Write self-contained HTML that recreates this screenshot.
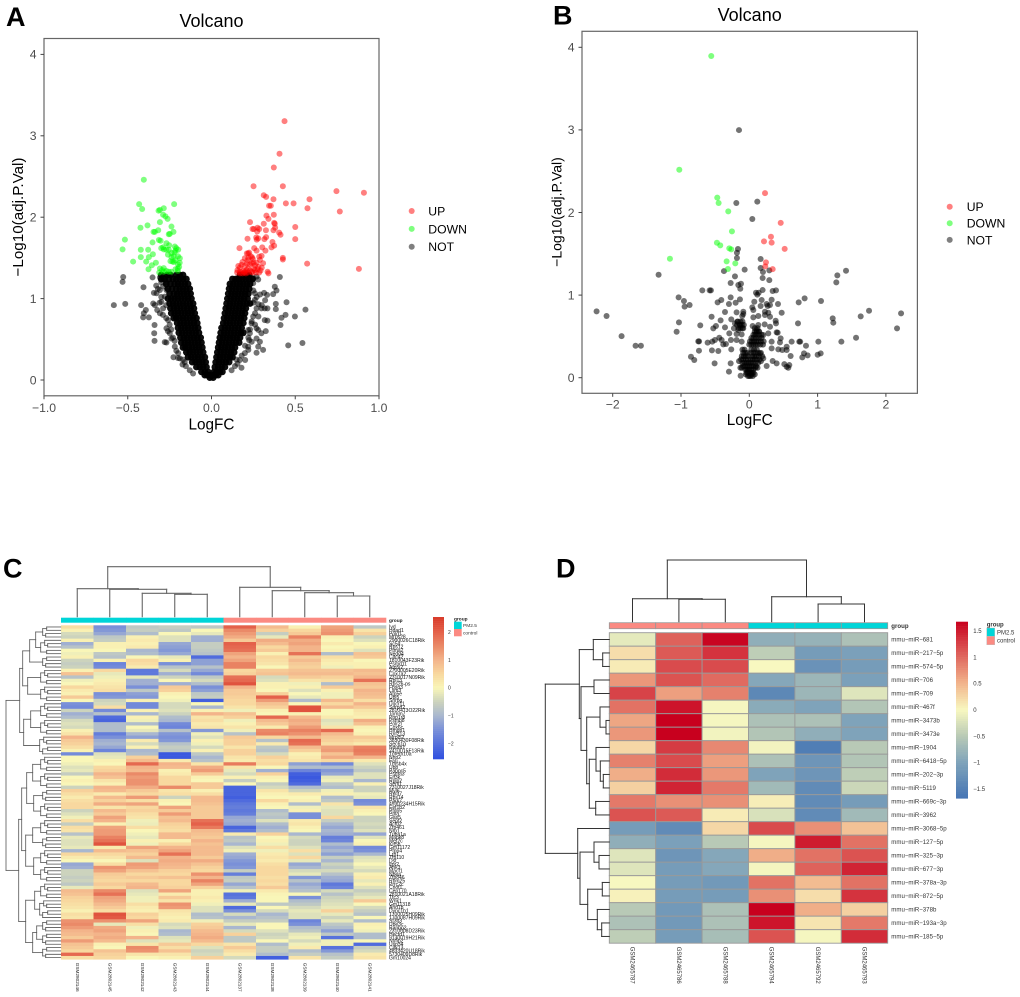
<!DOCTYPE html>
<html lang="en">
<head>
<meta charset="utf-8">
<title>Volcano plots and heatmaps</title>
<style>
html,body{margin:0;padding:0;background:#fff;width:1020px;height:997px;overflow:hidden}
svg{display:block;filter:blur(.35px)}
text{font-family:"Liberation Sans",Arial,sans-serif}
</style>
</head>
<body>
<svg id="fig" xmlns="http://www.w3.org/2000/svg" width="1020" height="997" viewBox="0 0 1020 997">
  <rect x="0" y="0" width="1020" height="997" fill="#fff"/>
  <text x="6" y="26" font-size="27" font-weight="bold" fill="#000">A</text>
  <text x="553" y="24.5" font-size="27" font-weight="bold" fill="#000">B</text>
  <text x="3" y="577.5" font-size="27" font-weight="bold" fill="#000">C</text>
  <text x="556" y="577.5" font-size="27" font-weight="bold" fill="#000">D</text>
  <g id="panelA"></g>
  <g id="panelB"></g>
  <g id="panelC"></g>
  <g id="panelD"></g>
</svg>
<script>
/* ---------- Panel A data ---------- */
const aUp=[[.436,3.18],[.406,2.78],[.372,2.61],[.251,2.38],[.426,2.38],[.746,2.32],[.91,2.3],[.312,2.27],[.326,2.25],[.37,2.22],[.585,2.22],[.444,2.17],[.49,2.17],[.573,2.11],[.766,2.07],[.344,2.14],[.354,2.14],[.328,2.02],[.372,2.03],[.34,1.98],[.23,1.94],[.312,1.92],[.374,1.93],[.378,1.92],[.38,1.87],[.5,1.88],[.245,1.855],[.253,1.855],[.275,1.87],[.285,1.855],[.273,1.825],[.325,1.84],[.37,1.84],[.404,1.81],[.412,1.785],[.215,1.735],[.267,1.75],[.279,1.74],[.27,1.725],[.316,1.73],[.326,1.755],[.364,1.695],[.5,1.73],[.374,1.65],[.358,1.63],[.167,1.62],[.255,1.62],[.269,1.59],[.303,1.63],[.322,1.59],[.211,1.555],[.219,1.555],[.225,1.565],[.426,1.5],[.426,1.48],[.199,1.495],[.243,1.505],[.247,1.485],[.285,1.515],[.299,1.525],[.289,1.475],[.571,1.43],[.88,1.365],[.179,1.415],[.211,1.43],[.239,1.435],[.308,1.435],[.155,1.35],[.169,1.33],[.189,1.34],[.219,1.37],[.229,1.345],[.245,1.32],[.259,1.35],[.275,1.36],[.293,1.345],[.335,1.33],[.34,1.31],[.209,1.35],[.219,1.32],[.153,1.32],[.185,1.31],[.253,1.37],[.16,1.4],[.17,1.38],[.185,1.45],[.2,1.4],[.2,1.33],[.215,1.47],[.23,1.42],[.235,1.52],[.25,1.44],[.26,1.41],[.27,1.44],[.28,1.39],[.22,1.5],[.24,1.33],[.265,1.32],[.285,1.32],[.3,1.38],[.205,1.31],[.17,1.31],[.195,1.32]];
const aDown=[[-.404,2.46],[-.432,2.16],[-.223,2.16],[-.414,2.1],[-.285,2.11],[-.316,2.08],[-.308,2.09],[-.289,2.03],[-.275,2.01],[-.262,1.98],[-.308,1.94],[-.382,1.9],[-.424,1.87],[-.239,1.885],[-.318,1.84],[-.346,1.82],[-.338,1.82],[-.227,1.82],[-.249,1.795],[-.255,1.79],[-.517,1.725],[-.314,1.72],[-.304,1.71],[-.352,1.69],[-.269,1.68],[-.253,1.655],[-.289,1.63],[-.531,1.605],[-.422,1.6],[-.378,1.6],[-.285,1.605],[-.255,1.6],[-.219,1.64],[-.215,1.59],[-.199,1.6],[-.221,1.57],[-.35,1.545],[-.374,1.51],[-.422,1.51],[-.239,1.51],[-.189,1.495],[-.233,1.455],[-.225,1.45],[-.468,1.455],[-.39,1.455],[-.332,1.44],[-.356,1.41],[-.376,1.36],[-.308,1.37],[-.285,1.375],[-.193,1.39],[-.201,1.37],[-.312,1.32],[-.255,1.33],[-.201,1.34],[-.285,1.33],[-.295,1.35],[-.27,1.34],[-.24,1.33],[-.215,1.36],[-.2,1.42],[-.19,1.44],[-.215,1.47],[-.245,1.46],[-.225,1.52],[-.24,1.56],[-.26,1.54],[-.27,1.6],[-.3,1.62],[-.2,1.52],[-.21,1.62]];
const aNot=[[-.527,1.265],[-.531,1.205],[-.406,1.14],[-.583,.92],[-.515,.935],[-.42,.92],[-.392,.86],[-.404,.82],[-.408,.77],[-.374,.77],[-.34,.675],[-.342,.575],[-.34,.48],[-.352,1.26],[-.344,1.07],[-.328,1.065],[-.348,.94],[-.338,.92],[-.324,.86],[-.308,.82],[-.279,.465],[-.269,.46],[-.227,.28],[-.173,.19],[-.153,.17],[-.308,1.26],[-.289,1.25],[-.259,1.29],[-.289,1.15],[-.308,1.105],[-.269,1.105],[-.279,1.025],[-.299,.96],[-.289,.88],[-.259,.735],[-.269,.635],[-.249,.575],[-.239,.51],[-.219,.41],[-.199,.33],[-.189,.265],[.408,1.265],[.378,1.145],[.388,1.1],[.368,1.055],[.314,1.07],[.332,1.045],[.448,.955],[.384,.935],[.384,.87],[.561,.865],[.298,.88],[.318,.88],[.334,.88],[.498,.78],[.442,.8],[.418,.765],[.412,.675],[.318,.735],[.334,.73],[.324,.6],[.298,.575],[.279,.615],[.269,.635],[.543,.455],[.458,.425],[.308,.37],[.269,.335],[.279,.41],[.289,.47],[.269,.51],[.201,.245],[.179,.15],[.155,.2],[.259,1.065],[.269,1.27],[.279,1.235],[.249,1.19],[.259,.985],[.269,.88],[.249,.78],[.229,.575],[.219,.41],[.199,.33],[.139,1.23],[.159,1.25],[.189,1.29],[.209,1.28],[.249,1.25],[.219,.615],[.239,.695],[.225,.49],[.169,.245],[-.3,1.2],[-.32,1.12],[-.3,1.02],[-.31,.95],[-.27,.92],[-.29,.8],[-.27,.76],[-.25,.68],[-.26,.6],[-.24,.62],[-.23,.52],[-.22,.48],[-.21,.36],[-.2,.27],[-.17,.25],[-.16,.22],[-.13,.12],[-.11,.08],[-.33,1.16],[-.27,1.2],[.25,1.1],[.27,1.02],[.25,.95],[.28,.93],[.26,.82],[.28,.78],[.24,.72],[.26,.68],[.22,.52],[.24,.47],[.22,.37],[.2,.42],[.18,.3],[.15,.25],[.14,.17],[.12,.12],[.3,.92],[.29,1.05],[.32,.98],[.23,.62]];
const aCoreRows=[
[.03,[-.01,.01]],
[.06,[-.012,-.025,-.04,.012,.025,.04]],
[.1,[-.02,-.04,-.06,.015,.03,.05,.065]],
[.16,[-.03,-.05,-.07,-.09,.02,.04,.06,.08]],
[.22,[-.035,-.055,-.075,-.095,-.115,.025,.045,.065,.085,.105]],
[.28,[-.04,-.06,-.08,-.1,-.12,-.14,.03,.05,.07,.09,.11,.125]],
[.34,[-.05,-.07,-.09,-.11,-.13,-.15,.035,.055,.075,.095,.115,.135]],
[.4,[-.055,-.075,-.095,-.115,-.135,-.155,-.17,.04,.06,.08,.1,.12,.14]],
[.46,[-.06,-.08,-.1,-.12,-.14,-.16,-.18,.045,.065,.085,.105,.125,.145,.165]],
[.52,[-.065,-.085,-.105,-.125,-.145,-.165,-.185,.05,.07,.09,.11,.13,.15,.17]],
[.58,[-.075,-.095,-.115,-.135,-.155,-.175,-.195,.055,.075,.095,.115,.135,.155,.175,.19]],
[.64,[-.08,-.1,-.12,-.14,-.16,-.18,-.2,.06,.08,.1,.12,.14,.16,.18]],
[.7,[-.085,-.105,-.125,-.145,-.165,-.185,-.205,.07,.09,.11,.13,.15,.17,.19]],
[.76,[-.09,-.11,-.13,-.15,-.17,-.19,-.21,-.225,.075,.095,.115,.135,.155,.175,.195]],
[.82,[-.1,-.12,-.14,-.16,-.18,-.2,-.22,-.24,.08,.1,.12,.14,.16,.18,.2]],
[.88,[-.105,-.125,-.145,-.165,-.185,-.205,-.225,-.245,.085,.105,.125,.145,.165,.185,.205]],
[.94,[-.11,-.13,-.15,-.17,-.19,-.21,-.23,-.25,.09,.11,.13,.15,.17,.19,.21,.23]],
[1,[-.12,-.14,-.16,-.18,-.2,-.22,-.24,-.26,.095,.115,.135,.155,.175,.195,.215]],
[1.06,[-.125,-.145,-.165,-.185,-.205,-.225,-.25,.1,.12,.14,.16,.18,.2,.22]],
[1.12,[-.13,-.15,-.17,-.19,-.21,-.235,-.26,.105,.125,.145,.165,.185,.205,.225]],
[1.18,[-.14,-.16,-.18,-.2,-.22,-.245,-.27,.11,.13,.15,.17,.19,.21,.23]],
[1.24,[-.15,-.17,-.19,-.21,-.23,-.255,-.28,-.3,.125,.145,.165,.185,.205,.225,.245]],
[1.29,[-.17,-.19,-.21,-.245,-.265,-.3,.17,.19,.21,.225]]
];
const aXTicks=[-1,-.5,0,.5,1];
const aXTickLabels=["−1.0","−0.5","0.0","0.5","1.0"];
const aYTicks=[0,1,2,3,4];
/* ---------- Panel B data ---------- */
const bUp=[[.23,2.235],[.46,1.875],[.317,1.707],[.215,1.65],[.327,1.635],[.518,1.56],[.244,1.396],[.234,1.348],[.342,1.315]];
const bDown=[[-.557,3.894],[-1.025,2.518],[-.469,2.18],[-.449,2.115],[-.308,2.014],[-.254,1.772],[-.474,1.634],[-.425,1.602],[-.293,1.566],[-.264,1.554],[-1.162,1.44],[-.332,1.408],[-.205,1.384],[-.313,1.316]];
const bNot=[[-.151,2.998],[-.19,2.115],[.117,2.131],[.044,1.921],[-.166,1.558],[-.181,1.513],[-.181,1.449],[.166,1.437],[-.068,1.308],[-.371,1.291],[.166,1.328],[.2,1.279],[.293,1.299],[-1.328,1.247],[-.21,1.227],[.195,1.207],[.293,1.182],[-.273,1.146],[-.122,1.138],[-.161,1.122],[-.132,1.077],[1.289,1.239],[1.416,1.295],[1.274,1.154],[-.688,1.057],[-.581,1.057],[-.562,1.057],[.195,1.061],[.342,1.049],[.391,1.057],[.098,1.029],[.137,1.029],[.117,1.005],[-1.035,.973],[-.273,.973],[-.41,.94],[-.137,.948],[-.957,.928],[-.464,.912],[-.298,.892],[-.2,.908],[.327,.944],[.073,.92],[.181,.94],[-.947,.86],[-.874,.88],[.81,.96],[.723,.912],[1.05,.928],[.42,.892],[.303,.88],[.269,.868],[.254,.892],[.044,.851],[.166,.868],[-2.236,.803],[-2.09,.747],[1.753,.811],[2.222,.779],[1.631,.743],[1.221,.718],[1.23,.666],[2.163,.597],[.713,.658],[-1.87,.504],[-1.665,.387],[-1.587,.387],[-1.03,.67],[-1.064,.557],[-.718,.634],[-.552,.738],[-.356,.795],[-.42,.694],[-.186,.791],[-.088,.799],[-.088,.771],[-.103,.747],[.059,.819],[.229,.799],[.278,.787],[.474,.787],[.059,.73],[.132,.747],[.229,.759],[.303,.738],[.386,.69],[.391,.658],[.225,.646],[.303,.617],[.132,.638],[.049,.626],[-.264,.706],[-.176,.678],[-.488,.626],[-.527,.597],[-.356,.609],[-.21,.658],[-.137,.638],[-.225,.597],[-.161,.577],[-.088,.597],[-.293,.537],[-.186,.529],[-.112,.525],[-.503,.456],[-.439,.484],[-.381,.404],[-.747,.44],[-.735,.44],[-.61,.424],[-.542,.436],[-.405,.456],[-.342,.408],[-.269,.456],[-.186,.456],[-.112,.436],[.107,.577],[.146,.557],[.083,.525],[.205,.517],[.278,.537],[.4,.549],[.415,.545],[.459,.476],[.327,.436],[.449,.428],[.62,.436],[.732,.436],[.745,.436],[1.011,.436],[1.348,.436],[1.563,.484],[.83,.387],[.547,.375],[.425,.343],[.547,.335],[.483,.335],[.327,.355],[-.737,.327],[-.547,.331],[-.454,.323],[-.264,.343],[-.854,.254],[-.806,.214],[-.508,.174],[-.273,.174],[-.298,.073],[-.127,.024],[.605,.262],[.801,.295],[.854,.27],[.776,.246],[1.001,.278],[1.045,.295],[.342,.202],[.4,.174],[.513,.165],[.586,.153],[.547,.133],[.571,.121],[.254,.141],[.156,.295],[.205,.234]];
const bCoreRows=[
[.02,[-.02,0,.02,.05]],
[.04,[-.05,.03,.08]],
[.06,[-.04,-.02,0,.02,.04,.06]],
[.1,[-.06,-.04,-.02,0,.03,.06]],
[.12,[-.13,-.11,.09,.12]],
[.14,[-.09,-.06,-.03,0,.03,.06,.1]],
[.18,[-.1,-.07,-.04,-.01,.02,.05,.09,.13]],
[.2,[-.15,.17]],
[.22,[-.12,-.09,-.05,-.02,.02,.05,.08,.11,.15]],
[.26,[-.11,-.08,-.05,-.02,.04,.07,.1,.14,.19]],
[.3,[-.09,-.06,-.03,.02,.06,.09,.13,.17]],
[.34,[-.1,-.07,.03,.07,.11]],
[.4,[0,.03,.06,.09,.12,.16,.2]],
[.44,[.01,.04,.07,.1,.13,.17,.21]],
[.48,[.03,.06,.1,.14,.18]],
[.52,[.06,.1,.14,.18]],
[.56,[.08,.11,.14]],
[.6,[-.16,-.13,-.1,.08,.12]],
[.64,[-.18,-.14,-.11,-.08]],
[.68,[-.17,-.13,-.1]]
];
const bXTicks=[-2,-1,0,1,2];
const bXTickLabels=["−2","−1","0","1","2"];
const bYTicks=[0,1,2,3,4];
const legendLabels=["UP","DOWN","NOT"];
/* ---------- Panel C data (one array per sample column) ---------- */
const cCol1=[.4,.1,-.4,-.5,.1,-1.1,-.8,0,-.1,.1,-.5,-.6,-.5,.1,.8,-.8,-.1,0,.5,.2,.1,.7,0,-1.5,-1.6,-.5,-1.1,-.9,-.4,-.3,-.4,.1,.3,1,.7,.6,.4,.1,-1.6,0,0,-.1,-.3,-.2,-.6,0,.1,0,-.5,.6,.4,.2,.4,.5,.5,-.5,-.3,-.1,.4,-.6,.4,.3,-.8,-.2,-.3,-.3,-.2,-1,.5,.2,0,-1.2,-1.1,-.5,-.5,-.6,-.5,-.7,-.2,.9,.8,.6,.5,.4,.3,.1,.4,.3,1.4,1.5,1.3,1,.9,.7,1.3,.8,.7,.5,1.9,.4];
const cCol2=[-1.5,-1.4,-1.2,-.7,-.6,.1,.1,0,-.7,-.8,.1,-1.7,-1.6,.5,-.2,-.1,.1,.2,.3,.4,-1.5,-1.4,-.5,-.4,.4,-1.6,-.8,-2.1,-2.2,-.9,-.9,-.9,-1.8,-1.5,-1.1,-1,-1.2,-1.7,-.3,-.2,.1,0,.5,.6,1,.8,.3,.1,1,.9,.2,.9,.6,1.1,.3,.9,.7,1.2,1,.1,1.2,1.3,1.3,1.6,1.8,2.2,.2,.9,.5,.3,0,.4,1.4,1.2,.7,.6,.5,.7,.5,1.5,1.8,1.2,1.1,.9,.7,.4,2.2,2.1,1.4,-.2,1.1,1.2,1,1.1,.9,.1,0,.8,.6,.5];
const cCol3=[-.7,-.6,-.9,.1,.2,.1,.2,-1,-.9,0,.5,.4,.2,-1.9,-1.9,-.2,-1.1,-1.1,-1.5,-.7,-1.3,-1.4,.1,-1.6,-1.6,.1,-1,.1,-.1,-.9,0,-.2,-1,-1.3,.2,-.4,.1,-1,-.9,.6,.9,1.9,1,.9,1.5,1.3,1.4,1.4,1.1,.7,.5,1.3,.4,1.2,.5,.6,.4,.3,-.1,-.15,.4,0,-.1,-.2,.1,-.1,1.2,.8,.6,.9,-.3,1.3,1.2,.8,.5,.7,.5,.9,1,-.3,-.2,-.1,-.1,.4,.2,.1,.6,.5,1.2,.4,-.1,.1,0,1,-.3,.3,1.5,1.4,.3,0];
const cCol4=[-.6,-.7,0,-.3,-.3,-1.2,-1.3,-1.4,-1.2,-.2,.1,-1.5,-.8,-.4,-1.1,-.5,0,-1.1,.7,.6,.1,0,-.1,-.4,-.4,-.3,-.5,-.9,-1,-1.6,-1.7,-.8,-1.4,-1.5,-1.4,-.8,-.6,-.7,-2.4,-2.4,.2,1,.9,.1,.2,.5,.5,.5,1.5,.3,.4,-.5,.1,0,1.2,.7,1.3,.8,.9,.6,.5,.4,.9,.9,.1,.5,1,1.2,1.8,1,1.1,1,.9,.6,.5,.8,.5,.5,.6,1.2,.2,.7,.3,1.4,1.3,.3,.2,.1,.2,-.4,-.3,-1,-.9,-.3,-.2,.7,.4,.8,.3,.1];
const cCol5=[-.7,0,-.2,-1.1,-1.1,-.6,-.6,-.7,-.8,-2.1,-1.3,-1.3,-.8,-1.2,-1.6,-.7,-.4,-.9,-1.5,-1.3,-.7,-.6,-2.3,0,-1,.1,1,.3,.4,.2,.3,-1.4,-.1,-.3,.1,-.1,-.4,.1,-.7,-1,-.8,.3,1.1,1.3,.7,.1,0,.7,.7,.1,.4,.9,.9,.8,.7,.7,.7,.7,1.8,2,1.7,.9,.8,.7,1,.8,.9,.9,.9,.7,1.1,.8,.6,.5,1.4,1,1.6,1.2,.6,.1,.1,.2,.1,-.1,-.3,-.3,-.9,-.8,-.1,.6,.7,.9,1,1.1,.9,.5,-.3,-.5,-.4,.6];
const cCol6=[2,1.5,1.3,1.1,.7,2,1.9,1.8,1.2,1,1.2,1.6,1.6,.5,.6,1.8,1.9,2.2,1,.7,.7,.6,.5,.5,.3,-.1,.8,.6,-.1,.1,.3,-.1,-.8,.7,.6,.6,.3,.6,.6,.3,.2,1.7,.3,-.2,-.4,.1,-.6,0,-2.2,-2.2,-2.2,-2.3,-2.1,-1.9,-1.8,-1.9,-1.8,-1.2,-1.1,-1.2,-2.2,-1.9,.2,-.8,-.7,-1,-.3,-.1,-1.1,-1.2,-1.4,-1.5,-1.4,-.6,-1.8,-.7,-.6,-1.2,-.8,-.1,-2,-1.9,-1.1,-.2,-2.1,-1.5,-.4,-1,-.6,-.2,-1,-.4,.6,-.7,-.7,.3,.7,.4,.2,-.4];
const cCol7=[.9,.6,-.6,-.2,1.1,.9,.5,.7,.1,.5,.4,.3,0,.7,.8,-.4,-.3,.1,.1,0,.6,2,1.3,.8,.6,.1,0,1.9,.9,.7,.2,1.5,1.6,.5,-.8,.2,-.7,-.8,-.4,.6,.4,.5,0,-1.1,.6,.1,0,-.6,-.4,.3,.1,0,.5,.1,0,-.9,-.7,-.8,-.3,-.9,-1.1,-.9,.6,0,.1,-.1,.4,-.1,.2,.3,.2,.4,.5,.5,.5,.4,.5,.4,.7,.2,.05,0,0,-.7,0,-.4,-1,-.8,-.6,0,0,-.3,-.5,-.4,0,-.9,-.6,-.6,-.9,-2.3];
const cCol8=[.1,.5,.7,1.6,1.1,1.2,1,1,1.8,.7,.9,.7,.6,.8,.9,.7,.3,-.1,.1,-.3,0,-.2,-.9,0,2.2,2.2,.1,.9,1.1,1,1.3,1.6,1.4,.9,1.9,1.8,.9,.6,.1,.2,.3,-1.3,-.9,-1.7,-2.3,-2.4,-2.3,-2.1,-.9,-.5,.2,0,.1,-.9,-.1,.1,-1.5,-1.5,.2,.3,.1,0,-1,-.4,-.5,-.5,-.3,.4,-.3,.5,-.2,-1.2,-1,-.4,-.2,-1.4,-.8,-1.2,-1,-.8,0,-1.5,-.9,-.7,-.4,-.2,-.3,-.3,-1.7,-1.5,-.9,-.7,-.2,-.1,-.4,-.1,.2,-.9,-.6,.3];
const cCol9=[1.2,1.3,1.4,.1,0,.2,0,.1,-.9,.4,.2,.1,-.1,.8,.9,.6,.4,-.9,.7,.1,-.1,-.1,.9,.5,.9,0,0,.2,-.3,-.2,.3,1.9,.9,.7,.6,.4,1.2,1.3,.8,1.1,.5,-1.6,-.9,-1.4,-1.2,-.2,-.1,-.7,-.9,-.1,.1,-.9,-.7,.3,-.2,-.3,-.3,.5,-.6,-1,-1.2,-1,-1.1,-1.8,-1.7,-.9,-1.2,-1,-1.3,-.6,-1,-.5,-.7,-.4,-.8,-1.1,-1.2,-1.9,-1.7,-.4,-.8,-.5,-.4,-.3,-.2,.6,-.2,-.5,-.2,-.7,-.9,-1.3,-.7,-2,-.1,-.1,-2,-1.4,-.8,-.6];
const cCol10=[-.7,.3,.6,-.5,-.3,0,.1,-.3,.8,.7,0,.1,.1,.9,.8,1,1.8,.8,.7,1,.9,.8,.4,1,.7,.3,.2,.1,1.1,.8,.1,0,.1,.7,.5,.2,1.6,1.7,1.6,1,.2,-.3,-.5,-.7,-.3,-.3,-1,.1,-.5,-.5,-.1,-.2,-1.6,-1.5,.3,.1,0,-.5,-.5,-.4,-.5,-.3,-1.2,-.3,0,.1,-1.6,-1.5,-1,-.3,-.2,0,-.2,-.4,.1,.2,-.2,.1,-.3,-.6,-.4,-.2,.7,0,-.4,-.6,-.8,0,-.9,.1,.05,-.1,-.9,-.9,0,-2.1,-.6,-.4,.2,.3];
const cColumns=[cCol1,cCol2,cCol3,cCol4,cCol5,cCol6,cCol7,cCol8,cCol9,cCol10];
const cSamples=["GSM2802146","GSM2802145","GSM2802142","GSM2802143","GSM2802144","GSM2802137","GSM2802138","GSM2802139","GSM2802140","GSM2802141"];
const cGroups=["PM2.5","PM2.5","PM2.5","PM2.5","PM2.5","control","control","control","control","control"];
const cRowLabels=["Ivd","Hdad1","Pold1","Mrps28","2900026C18Rik","Sc5d","Rps12","Ptma2","Nedd4","Cdc42",
"1810043F23Rik","Psmd11","Atp5j2","2700005E20Rik","Cox7a2","2310017N09Rik","Rpl13","Rps26-ps","Fbxo3","Lsm3",
"Atp5e","Ubl5","Snrpg","Uqcr11","Snrpd2","2810473O22Rik","Tomm7","Ppp1r8","Psmb8","Polr2l",
"Cox6c","Hmgn1","Rnf213","Mrpl52","3830430F08Rik","Sec61g","Ndufb1","2410015F13Rik","Tmem10a","Nhp2",
"Fau","Tmsb4x","Ubb","Pabpc5","Psma3","Eif3k","Rplp2","Sem1","2310027J18Rik","Myl6",
"Rpl37","Rps14","Park7","4930234H15Rik","Eef1b2","Pfdn5","Ppia","Gas5","Sept2","Actb2",
"Zfp461","Nrp1","Tuba1a","Mapk8","Mef2c","Kif5b","Gm11172","Ptpn4","Lrp1","Zfp110",
"Dst","Itpr2","Ank3","Macf1","Nbea","Zfp846","Rbm25","Prrc2c","Cnot1","Cep170",
"2810021A18Rik","Ttc3","Wnk1","Gm11318","Arid1b","Dync1h1","1700025H09Rik","1700087H09Rik","Sf3b3","Ube3c",
"Ranbp2","2310008D23Rik","Hectd1","9130019H21Rik","Nufip2","Usp34","Cdk13","4833420U18Rik","5730409D8Rik","Gm10024"];
const cTreeC4=[18,[14,0,0],[15,0,0]];
const cTreeC5=[20,[16,0,[13,0,0]],[14,0,0]];
const cTreeC6=[21,[17,0,[14,0,0]],[18,[13,0,0],0]];
const cTreeRows=[54.7,
  [41,
    [38,[31,[25,cTreeC4,cTreeC5],cTreeC4],[33,cTreeC5,cTreeC5]],
    [37,[30,cTreeC5,cTreeC5],cTreeC6]],
  [42,
    [39,[34,[28,cTreeC5,cTreeC5],[27,cTreeC4,cTreeC5]],[35,[28,cTreeC5,cTreeC4],[27,cTreeC5,cTreeC5]]],
    [35,[26,cTreeC5,cTreeC6],[28,[24,cTreeC4,cTreeC4],cTreeC4]]]
];
const cTreeCols=[50,[28,0,[27.4,0,[23.4,0,[22.4,0,0]]]],[29.4,0,[26,0,[24,0,[20.7,0,0]]]]];
const cLegendTicks=[2,1,0,-1,-2];
const cLegendLabels=["2","1","0","−1","−2"];
const cStops=[[-2.55,[48,80,224]],[-1.5,[122,144,216]],[-1,[169,183,207]],[-.5,[204,211,189]],[0,[249,246,184]],[.5,[248,216,159]],[1,[243,180,138]],[1.5,[234,138,104]],[2,[228,97,74]],[2.55,[216,58,42]]];
/* ---------- Panel D data ---------- */
const dRowLabels=["mmu−miR−681","mmu−miR−217−5p","mmu−miR−574−5p","mmu−miR−706","mmu−miR−709","mmu−miR−467f","mmu−miR−3473b","mmu−miR−3473e","mmu−miR−1904","mmu−miR−6418−5p","mmu−miR−202−3p","mmu−miR−5119","mmu−miR−669c−3p","mmu−miR−3962","mmu−miR−3068−5p","mmu−miR−127−5p","mmu−miR−325−3p","mmu−miR−677−3p","mmu−miR−378a−3p","mmu−miR−872−5p","mmu−miR−378b","mmu−miR−193a−3p","mmu−miR−185−5p"];
const dSamples=["GSM2465787","GSM2465786","GSM2465788","GSM2465794","GSM2465792","GSM2465793"];
const dGroups=["control","control","control","PM2.5","PM2.5","PM2.5"];
const dMatrix=[
[-.15,1.05,1.65,-.85,-.8,-.6],
[.2,1.1,1.35,-.45,-1.1,-1.05],
[.1,1.2,1.2,0,-1.25,-1.1],
[.7,1.15,1,-.95,-.75,-1.05],
[1.25,.65,.85,-1.4,-.75,-.2],
[.95,1.55,-.02,-.9,-1,-.55],
[.6,1.68,-.02,-.6,-.6,-1],
[.7,1.68,-.05,-.55,-.85,-1],
[.25,1.3,.8,-.05,-1.55,-.5],
[.85,1.2,.65,-.6,-1.2,-.55],
[.55,1.4,.7,-1,-1.2,-.45],
[.3,1.45,.9,-.7,-1.35,-.35],
[.9,.75,.75,.08,-1.35,-1.1],
[1.15,1.1,.1,-.25,-1.35,-.7],
[-1.1,-1.35,.25,1.2,.75,.4],
[-.85,-1.05,-.5,-.02,1.5,.95],
[-.2,-1.2,-.95,.55,.95,1.15],
[-.2,-1.1,-.95,-.03,1.05,1.45],
[-.01,-1.1,-1.15,.95,.45,.95],
[.05,-1.1,-1.1,.75,.2,1.35],
[-.5,-1.15,-.6,1.68,.55,.3],
[-.6,-1.15,-.6,1.55,.15,.9],
[-.45,-1.1,-.65,1.15,-.02,1.4]
];
const dTreeCols=[61.7,[23,0,[22.4,0,0]],[25,0,[17.7,0,0]]];
const dTreeRows=[64,
  [30,[16,0,[6.6,0,0]],[28.3,[15.3,0,0],[22.6,[9.3,0,[3.3,0,0]],[20,[13.3,0,[9,0,[6,0,0]]],[13.6,0,0]]]]],
  [31.6,0,[29.3,[15.3,0,[10.3,0,0]],[21.6,[7,0,0],[12,0,[7.6,0,0]]]]]
];
const dLegendTicks=[1.5,1,.5,0,-.5,-1,-1.5];
const dLegendLabels=["1.5","1","0.5","0","−0.5","−1","−1.5"];
const dStops=[[-1.68,[69,117,180]],[-1,[127,163,186]],[-.5,[184,201,182]],[0,[248,248,192]],[.5,[242,181,140]],[1,[224,106,96]],[1.68,[200,0,30]]];
const groupColors={"PM2.5":"#00d5d8","control":"#fb8a82"};

/* ---------- helpers ---------- */
const NS="http://www.w3.org/2000/svg";
function mk(parent,tag,attrs,text){
  const el=document.createElementNS(NS,tag);
  for(const k in attrs)el.setAttribute(k,attrs[k]);
  if(text!==undefined)el.textContent=text;
  parent.appendChild(el);
  return el;
}
function colorScale(stops){
  return function(v){
    if(v<=stops[0][0])return "rgb("+stops[0][1].join(",")+")";
    for(let i=1;i<stops.length;i++){
      if(v<=stops[i][0]){
        const t=(v-stops[i-1][0])/(stops[i][0]-stops[i-1][0]);
        const c=stops[i][1].map((b,j)=>Math.round(stops[i-1][1][j]+(b-stops[i-1][1][j])*t));
        return "rgb("+c.join(",")+")";
      }
    }
    return "rgb("+stops[stops.length-1][1].join(",")+")";
  };
}
function flattenRows(rows){
  const out=[];
  rows.forEach(r=>r[1].forEach(x=>out.push([x,r[0]])));
  return out;
}
/* dendrogram: node = [height, left, right], 0 = leaf (leaves numbered in order) */
function drawTree(parent,tree,leafPos,heightPos,vertical,stroke,width,name){
  let counter=0;
  const line=(x1,y1,x2,y2)=>{
    const l=mk(parent,"line",{x1:x1,y1:y1,x2:x2,y2:y2,stroke:stroke,"stroke-width":width,"stroke-linecap":"square"});
    
    
  };
  function walk(n){
    if(!Array.isArray(n)){const p=leafPos(counter++);return {p:p,h:0};}
    const a=walk(n[1]),b=walk(n[2]),c=heightPos(n[0]);
    if(vertical){
      line(a.p,heightPos(a.h),a.p,c);
      line(b.p,heightPos(b.h),b.p,c);
      line(a.p,c,b.p,c);
    }else{
      line(heightPos(a.h),a.p,c,a.p);
      line(heightPos(b.h),b.p,c,b.p);
      line(c,a.p,c,b.p);
    }
    return {p:(a.p+b.p)/2,h:n[0]};
  }
  walk(tree);
}

/* ---------- volcano ---------- */
function volcano(id,cfg){
  const g=document.getElementById(id);
  const sx=v=>cfg.x0+v*cfg.kx;
  const sy=v=>cfg.y0-v*cfg.ky;
  const frame=mk(g,"rect",{x:cfg.left,y:cfg.top,width:cfg.w,height:cfg.h,fill:"none",stroke:"#666","stroke-width":1.2});
  
  
  const dot=(p,color,op,name,r)=>{
    const c=mk(g,"circle",{cx:sx(p[0]),cy:sy(p[1]),r:r,fill:color,"fill-opacity":op});
    
    
  };
  cfg.core.forEach(p=>dot(p,"#000",cfg.coreOpacity,"not-point",cfg.coreR));
  cfg.not.forEach(p=>dot(p,"#000",.55,"not-point",3));
  cfg.up.forEach(p=>dot(p,"#ff0000",.5,"up-point",3));
  cfg.down.forEach(p=>dot(p,"#00ff00",.5,"down-point",3));
  cfg.xTicks.forEach((v,i)=>{
    const t=mk(g,"line",{x1:sx(v),x2:sx(v),y1:cfg.top+cfg.h,y2:cfg.top+cfg.h+3.5,stroke:"#444","stroke-width":1});
    
    
    const l=mk(g,"text",{x:sx(v),y:cfg.xLabelY,"text-anchor":"middle","font-size":12.2,fill:"#4d4d4d"},cfg.xLabels[i]);
    
    
  });
  cfg.yTicks.forEach(v=>{
    const t=mk(g,"line",{x1:cfg.left-3.5,x2:cfg.left,y1:sy(v),y2:sy(v),stroke:"#444","stroke-width":1});
    
    
    const l=mk(g,"text",{x:cfg.left-7.5,y:sy(v)+4.3,"text-anchor":"end","font-size":12.2,fill:"#4d4d4d"},String(v));
    
    
  });
  const ti=mk(g,"text",{x:cfg.left+cfg.w/2,y:cfg.titleY,"text-anchor":"middle","font-size":18,fill:"#000"},"Volcano");
  
  
  const xt=mk(g,"text",{x:cfg.left+cfg.w/2,y:cfg.xTitleY,"text-anchor":"middle","font-size":15.3,fill:"#000"},"LogFC");
  
  
  const yt=mk(g,"text",{x:0,y:0,transform:"translate("+cfg.yTitleX+","+cfg.yTitleY+") rotate(-90)","text-anchor":"middle","font-size":cfg.yTitleSize,fill:"#000"},"−Log10(adj.P.Val)");
  
  
  const cols=["#ff0000","#00ff00","#000"];
  legendLabels.forEach((lab,i)=>{
    const y=cfg.legendY+i*cfg.legendStep;
    const c=mk(g,"circle",{cx:cfg.legendDotX,cy:y,r:3,fill:cols[i],"fill-opacity":.5});
    
    
    const t=mk(g,"text",{x:cfg.legendTextX,y:y+4.4,"font-size":12.2,fill:"#000"},lab);
    
    
  });
}
volcano("panelA",{x0:211.5,kx:167.5,y0:380,ky:81.4,left:44,top:38.5,w:335,h:357.3,
  up:aUp,down:aDown,not:aNot,core:flattenRows(aCoreRows),coreOpacity:.95,coreR:3.4,
  xTicks:aXTicks,xLabels:aXTickLabels,yTicks:aYTicks,xLabelY:412,titleY:27,xTitleY:429.5,
  yTitleX:23,yTitleY:217,yTitleSize:15.2,legendDotX:411.7,legendTextX:428.3,legendY:211,legendStep:17.9});
volcano("panelB",{x0:749.3,kx:68.3,y0:377.7,ky:82.6,left:582,top:31.3,w:335.4,h:362,
  up:bUp,down:bDown,not:bNot,core:flattenRows(bCoreRows),coreOpacity:.6,coreR:3,
  xTicks:bXTicks,xLabels:bXTickLabels,yTicks:bYTicks,xLabelY:408.5,titleY:21,xTitleY:425,
  yTitleX:561.5,yTitleY:212,yTitleSize:14,legendDotX:949.7,legendTextX:966.7,legendY:206.7,legendStep:16.6});

/* ---------- heatmap C ---------- */
(function(){
  const g=document.getElementById("panelC");
  const color=colorScale(cStops);
  const left=61,colW=32.5,top=625.3,rowH=3.34;
  const cx=i=>left+colW*(i+.5);
  const ry=r=>top+rowH*(r+.5);
  cColumns.forEach((col,c)=>{
    col.forEach((v,r)=>{
      const rc=mk(g,"rect",{x:left+c*colW,y:top+r*rowH,width:colW+.3,height:rowH+.3,fill:color(v)});
      
      
    });
  });
  cGroups.forEach((gr,c)=>{
    const rc=mk(g,"rect",{x:left+c*colW,y:617.7,width:colW+.3,height:5,fill:groupColors[gr]});
    
    
  });
  drawTree(g,cTreeCols,cx,h=>616.7-h,true,"#666",1.1,"column-dendrogram-branch");
  drawTree(g,cTreeRows,ry,h=>60.7-h,false,"#555",.8,"row-dendrogram-branch");
  cRowLabels.forEach((t,r)=>{
    const el=mk(g,"text",{x:389,y:ry(r)+1.7,"font-size":5,fill:"#111"},t);
    
    
  });
  cSamples.forEach((t,c)=>{
    const el=mk(g,"text",{x:0,y:0,transform:"translate("+(cx(c)-1.5)+",962.7) rotate(90)","font-size":4.7,fill:"#222"},t);
    
    
  });
  const gl=mk(g,"text",{x:389,y:622,"font-size":4.8,"font-weight":"bold",fill:"#222"},"group");
  
  
  /* colour bar */
  const barTop=617,barH=142,n=70;
  for(let i=0;i<n;i++){
    const v=2.55-5.1*(i+.5)/n;
    const b=mk(g,"rect",{x:433,y:barTop+i*barH/n,width:11,height:barH/n+.3,fill:color(v)});
    
    
  }
  cLegendTicks.forEach((v,i)=>{
    const el=mk(g,"text",{x:448,y:688-v*27.85+1.7,"font-size":5,fill:"#333"},cLegendLabels[i]);
    
    
  });
  const lt=mk(g,"text",{x:454,y:620.5,"font-size":4.8,"font-weight":"bold",fill:"#222"},"group");
  
  
  ["PM2.5","control"].forEach((k,i)=>{
    const s=mk(g,"rect",{x:454,y:621.7+i*7.3,width:7.7,height:7.3,fill:groupColors[k]});
    
    
    const t=mk(g,"text",{x:463,y:627.2+i*7.3,"font-size":4.8,fill:"#333"},k);
    
    
  });
})();

/* ---------- heatmap D ---------- */
(function(){
  const g=document.getElementById("panelD");
  const color=colorScale(dStops);
  const left=609.3,colW=46.4,top=632.7,rowH=13.5;
  const cx=i=>left+colW*(i+.5);
  const ry=r=>top+rowH*(r+.5);
  dMatrix.forEach((row,r)=>{
    row.forEach((v,c)=>{
      const rc=mk(g,"rect",{x:left+c*colW,y:top+r*rowH,width:colW,height:rowH,fill:color(v),stroke:"#999","stroke-width":.9});
      
      
    });
  });
  dGroups.forEach((gr,c)=>{
    const rc=mk(g,"rect",{x:left+c*colW,y:622.7,width:colW,height:6,fill:groupColors[gr],stroke:"#999","stroke-width":.8});
    
    
  });
  drawTree(g,dTreeCols,cx,h=>621.7-h,true,"#333",1,"column-dendrogram-branch");
  drawTree(g,dTreeRows,ry,h=>609.3-h,false,"#333",1,"row-dendrogram-branch");
  dRowLabels.forEach((t,r)=>{
    const el=mk(g,"text",{x:891.3,y:ry(r)+2,"font-size":6.1,fill:"#333"},t);
    
    
  });
  dSamples.forEach((t,c)=>{
    const el=mk(g,"text",{x:0,y:0,transform:"translate("+(cx(c)-2)+",946.7) rotate(90)","font-size":6,fill:"#333"},t);
    
    
  });
  const gl=mk(g,"text",{x:891.3,y:628,"font-size":6.1,"font-weight":"bold",fill:"#333"},"group");
  
  
  const barTop=621.7,barH=176.6,n=80;
  for(let i=0;i<n;i++){
    const v=1.68-3.36*(i+.5)/n;
    const b=mk(g,"rect",{x:956,y:barTop+i*barH/n,width:12,height:barH/n+.3,fill:color(v)});
    
    
  }
  dLegendTicks.forEach((v,i)=>{
    const el=mk(g,"text",{x:973.3,y:710-v*52.7+2,"font-size":6,fill:"#333"},dLegendLabels[i]);
    
    
  });
  const lt=mk(g,"text",{x:986.7,y:626.5,"font-size":6,"font-weight":"bold",fill:"#333"},"group");
  
  
  ["PM2.5","control"].forEach((k,i)=>{
    const s=mk(g,"rect",{x:986.7,y:628+i*8.4,width:8,height:8.4,fill:groupColors[k],stroke:"#bbb","stroke-width":.4});
    
    
    const t=mk(g,"text",{x:997,y:634.3+i*8.4,"font-size":6,fill:"#333"},k);
    
    
  });
})();
</script>
</body>
</html>
